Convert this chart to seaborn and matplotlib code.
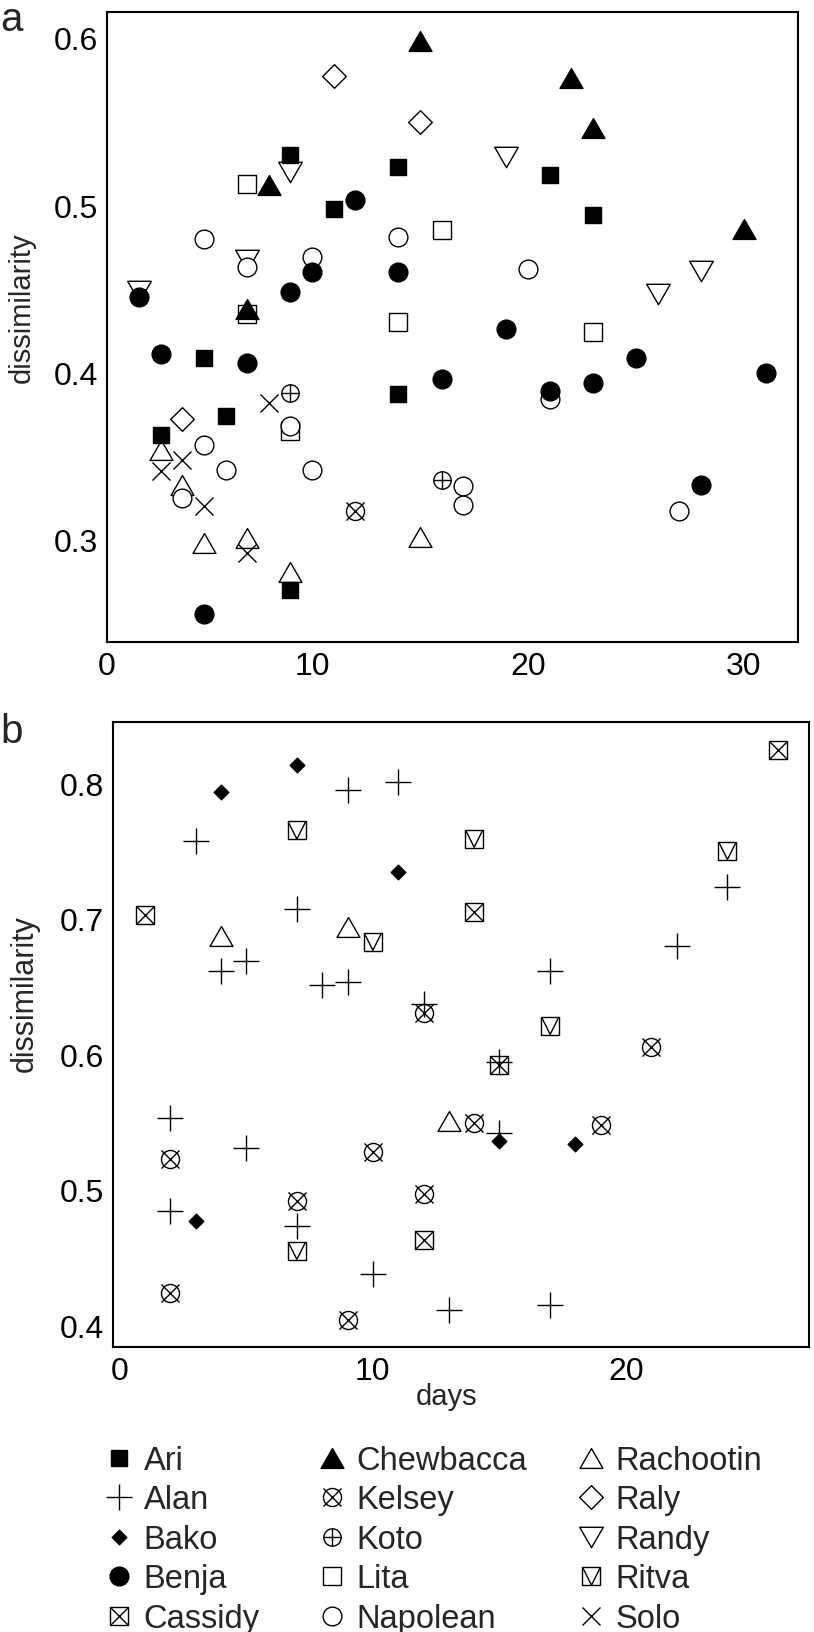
import matplotlib
matplotlib.use("Agg")
import matplotlib.pyplot as plt
import numpy as np
import pandas as pd
import seaborn as sns
from matplotlib.path import Path
from matplotlib.lines import Line2D
from matplotlib.legend_handler import HandlerTuple

# ---------------- panel a (days vs dissimilarity) ----------------
ari_days = [9, 11, 14, 21, 23, 5, 14, 6, 3, 9]
ari_dis = [0.530, 0.498, 0.523, 0.518, 0.494, 0.409, 0.387, 0.374, 0.363, 0.270]

benja_days = [12, 10, 9, 14, 2, 19, 3, 7, 16, 21, 23, 25, 31, 28, 5]
benja_dis = [0.503, 0.460, 0.448, 0.460, 0.445, 0.426, 0.411, 0.406, 0.396,
             0.389, 0.394, 0.409, 0.400, 0.333, 0.256]

chewbacca_days = [15, 8, 22, 23, 30, 7]
chewbacca_dis = [0.598, 0.512, 0.576, 0.546, 0.486, 0.438]

raly_days = [11, 15, 4]
raly_dis = [0.577, 0.550, 0.372]

randy_days = [9, 7, 2, 19, 28, 26]
randy_dis = [0.520, 0.467, 0.449, 0.529, 0.461, 0.447]

lita_days = [7, 7, 14, 16, 23, 9]
lita_dis = [0.513, 0.435, 0.430, 0.485, 0.424, 0.365]

napolean_days = [5, 14, 7, 10, 20, 21, 9, 5, 6, 10, 4, 17, 17, 27]
napolean_dis = [0.480, 0.481, 0.463, 0.469, 0.462, 0.384, 0.368, 0.357, 0.342,
                0.342, 0.325, 0.332, 0.321, 0.317]

koto_days = [9, 16]
koto_dis = [0.388, 0.336]

solo_days = [8, 4, 3, 5, 7]
solo_dis = [0.382, 0.348, 0.341, 0.320, 0.292]

kelsey_a_days = [12]
kelsey_a_dis = [0.317]

rachootin_a_days = [3, 4, 5, 7, 9, 15]
rachootin_a_dis = [0.354, 0.333, 0.298, 0.301, 0.281, 0.302]

# ---------------- panel b ----------------
alan_days = [9, 11, 3, 7, 4, 5, 8, 9, 24, 22, 17, 12, 15, 15, 2, 5, 2, 7, 10, 13, 17]
alan_dis = [0.795, 0.801, 0.757, 0.707, 0.661, 0.669, 0.651, 0.653, 0.723, 0.680,
            0.661, 0.637, 0.594, 0.542, 0.553, 0.531, 0.484, 0.473, 0.438, 0.411, 0.415]

bako_days = [4, 7, 11, 3, 15, 18]
bako_dis = [0.793, 0.813, 0.734, 0.477, 0.536, 0.534]

ritva_days = [7, 10, 14, 24, 17, 7]
ritva_dis = [0.765, 0.683, 0.759, 0.750, 0.621, 0.455]

cassidy_days = [1, 26, 14, 15, 12]
cassidy_dis = [0.703, 0.824, 0.705, 0.592, 0.463]

rachootin_b_days = [4, 9, 13]
rachootin_b_dis = [0.687, 0.694, 0.551]

kelsey_b_days = [12, 21, 14, 19, 2, 10, 7, 12, 2, 9]
kelsey_b_dis = [0.630, 0.605, 0.549, 0.548, 0.523, 0.528, 0.492, 0.497, 0.424, 0.404]

legend_cols = [["Ari", "Alan", "Bako", "Benja", "Cassidy"],
               ["Chewbacca", "Kelsey", "Koto", "Lita", "Napolean"],
               ["Rachootin", "Raly", "Randy", "Ritva", "Solo"]]


def frame(subject, days, dis):
    return pd.DataFrame({"subject": subject, "days": days, "dissimilarity": dis})


# drawing order: open markers first, filled ones on top
df_a = pd.concat([
    frame("Lita", lita_days, lita_dis),
    frame("Randy", randy_days, randy_dis),
    frame("Rachootin", rachootin_a_days, rachootin_a_dis),
    frame("Napolean", napolean_days, napolean_dis),
    frame("Raly", raly_days, raly_dis),
    frame("Koto", koto_days, koto_dis),
    frame("Kelsey", kelsey_a_days, kelsey_a_dis),
    frame("Solo", solo_days, solo_dis),
    frame("Chewbacca", chewbacca_days, chewbacca_dis),
    frame("Benja", benja_days, benja_dis),
    frame("Ari", ari_days, ari_dis),
])
df_b = pd.concat([
    frame("Ritva", ritva_days, ritva_dis),
    frame("Cassidy", cassidy_days, cassidy_dis),
    frame("Rachootin", rachootin_b_days, rachootin_b_dis),
    frame("Kelsey", kelsey_b_days, kelsey_b_dis),
    frame("Bako", bako_days, bako_dis),
    frame("Alan", alan_days, alan_dis),
])


def poly(pts):
    codes = [Path.MOVETO] + [Path.LINETO] * (len(pts) - 1) + [Path.CLOSEPOLY]
    return Path(pts + [pts[0]], codes)


TRI_UP = poly([(-1, -0.866), (1, -0.866), (0, 0.866)])
TRI_DOWN = poly([(-1, 0.866), (1, 0.866), (0, -0.866)])
DIAMOND = poly([(0, 1), (1, 0), (0, -1), (-1, 0)])
V_MARK = Path([(-1, 1), (0, -1), (1, 1)], [Path.MOVETO, Path.LINETO, Path.LINETO])

LW = 1.0
# each subject: layers of (marker, size in pt, face colour or None for line art)
STYLES = {
    "Ari": [("s", 12.2, "black")],
    "Alan": [("+", 18.7, None)],
    "Bako": [(DIAMOND, 10.5, "black")],
    "Benja": [("o", 13.5, "black")],
    "Cassidy": [("s", 12.5, "white"), ("x", 12.5, None)],
    "Chewbacca": [(TRI_UP, 16.5, "black")],
    "Kelsey": [("o", 13, "white"), ("x", 13, None)],
    "Koto": [("o", 12.5, "white"), ("+", 12.5, None)],
    "Lita": [("s", 12.5, "white")],
    "Napolean": [("o", 13.5, "white")],
    "Rachootin": [(TRI_UP, 16.5, "white")],
    "Raly": [(DIAMOND, 17, "white")],
    "Randy": [(TRI_DOWN, 17, "white")],
    "Ritva": [("s", 12.5, "white"), (V_MARK, 12.5, "none")],
    "Solo": [("x", 13, None)],
}


def draw(ax, df):
    for name in df["subject"].unique():
        sub = df[df["subject"] == name]
        for marker, size, face in STYLES[name]:
            kw = dict(marker=marker, s=size ** 2, color="black", linewidth=LW)
            if face is not None:
                kw.update(facecolor=face, edgecolor="black")
            sns.scatterplot(data=sub, x="days", y="dissimilarity", ax=ax,
                            legend=False, **kw)


sns.set_style("white")
plt.rcParams["font.family"] = ["Liberation Sans", "DejaVu Sans"]

fig = plt.figure(figsize=(8.14, 16.33), dpi=100)
ax_a = fig.add_axes([107 / 814, 1 - 643 / 1633, 691 / 814, 630 / 1633])
ax_b = fig.add_axes([113 / 814, 1 - 1348 / 1633, 696 / 814, 625 / 1633])

draw(ax_a, df_a)
draw(ax_b, df_b)

for ax in (ax_a, ax_b):
    for sp in ax.spines.values():
        sp.set_visible(True)
        sp.set_color("black")
        sp.set_linewidth(1.5)
    ax.tick_params(direction="out", length=3.6, width=1.1, color="#a8a8a8",
                   labelcolor="black", pad=3)
    ax.tick_params(axis="y", labelsize=23)
    ax.tick_params(axis="x", labelsize=23)
    ax.set_xlabel("")

ax_a.set_xlim(0.51, 32.5)
ax_a.set_ylim(0.239, 0.6155)
ax_a.set_xticks([0.51, 10, 20, 30], ["0", "10", "20", "30"])
ax_a.set_yticks([0.3, 0.4, 0.5, 0.6], ["0.3", "0.4", "0.5", "0.6"])
ax_a.set_ylabel("dissimilarity", fontsize=21)
ax_a.yaxis.label.set_va("center")
ax_a.yaxis.set_label_coords((21.5 - 107) / 691, (643 - 308) / 630)

ax_b.set_xlim(-0.26, 27.22)
ax_b.set_ylim(0.384, 0.845)
ax_b.set_xticks([0, 10, 20], ["0", "10", "20"])
ax_b.set_yticks([0.4, 0.5, 0.6, 0.7, 0.8], ["0.4", "0.5", "0.6", "0.7", "0.8"])
ax_b.set_ylabel("dissimilarity", fontsize=22)
ax_b.yaxis.label.set_va("center")
ax_b.yaxis.set_label_coords((25 - 113) / 696, (1348 - 994) / 625)
ax_b.set_xlabel("days", fontsize=21)
ax_b.xaxis.label.set_va("center")
ax_b.xaxis.set_label_coords((447 - 113) / 696, (1348 - 1397) / 625)

fig.text(0.0, 1 - 31 / 1633, "a", fontsize=29, ha="left", va="baseline")
fig.text(0.0, 1 - 743 / 1633, "b", fontsize=29, ha="left", va="baseline")


def handle(name):
    parts = []
    for marker, size, face in STYLES[name]:
        if face is None:
            parts.append(Line2D([], [], marker=marker, markersize=size, linestyle="none",
                                color="black", markeredgewidth=LW))
        else:
            parts.append(Line2D([], [], marker=marker, markersize=size, linestyle="none",
                                markerfacecolor=face, markeredgecolor="black",
                                markeredgewidth=LW))
    return tuple(parts)


LEG_FS = 23.5
hl = 1.0
for col, mx in zip(legend_cols, [119, 332, 591]):
    left = (mx - hl * LEG_FS * 100 / 72 / 2) / 814
    fig.legend([handle(n) for n in col], col, loc="upper left",
               bbox_to_anchor=(left, 1 - 1446 / 1633), frameon=False,
               borderpad=0, borderaxespad=0, handlelength=hl, handletextpad=0.25,
               labelspacing=0.26, fontsize=LEG_FS,
               handler_map={tuple: HandlerTuple(ndivide=1)})

fig.savefig("out.png", dpi=100)
